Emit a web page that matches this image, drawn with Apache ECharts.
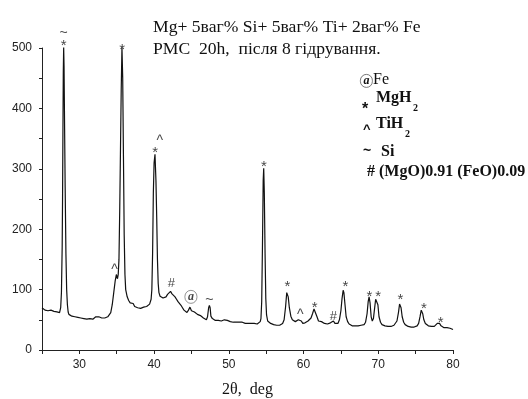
<!DOCTYPE html>
<html><head><meta charset="utf-8">
<script src="https://cdn.jsdelivr.net/npm/echarts@6/dist/echarts.min.js"></script>
<style>html,body{margin:0;padding:0;background:#fff}#c{width:528px;height:399px}</style>
</head><body><div id="c"></div>
<script>
// XRD scan: [2θ (deg), intensity]
const xrdScan = [
[25.0,70],[25.2,68],[25.4,66],[25.6,67],[25.8,65],[26.0,64],[26.2,66],[26.4,63],[26.6,64],[26.8,62],[27.0,63],[27.2,61],[27.35,62],
[27.5,70],[27.6,95],[27.7,170],[27.75,250],[27.8,360],[27.85,460],[27.9,501],[27.95,470],[28.0,400],[28.1,270],[28.2,160],[28.3,100],
[28.4,75],[28.5,63],[28.6,59],
[28.8,57],[29.0,56],[29.2,57],[29.4,55],[29.6,56],[29.8,54],[30.0,55],[30.2,53],[30.4,54],[30.6,52],[30.8,53],[31.0,51],[31.2,53],
[31.4,52],[31.6,53],[31.8,51],[32.0,53],[32.2,55],[32.4,57],[32.6,55],[32.8,54],[33.0,53],[33.2,54],[33.4,53],[33.6,54],[33.8,55],
[34.0,56],[34.2,62],[34.4,75],[34.6,95],[34.8,115],[34.95,125],[35.1,118],[35.2,125],[35.3,150],[35.4,230],[35.5,330],[35.6,430],
[35.7,501],[35.8,450],[35.9,320],[36.0,190],[36.1,125],[36.2,100],[36.4,88],[36.6,82],[36.8,78],[37.0,76],[37.2,77],[37.4,72],
[37.6,73],[37.8,70],[38.0,71],[38.2,69],[38.4,70],[38.6,71],[38.8,70],[39.0,72],[39.2,73],[39.4,76],[39.6,84],[39.7,100],[39.8,160],
[39.9,260],[40.0,310],[40.12,324],[40.25,280],[40.35,220],[40.45,150],[40.55,110],[40.65,95],[40.8,89],[41.0,87],[41.2,86],[41.4,89],
[41.6,88],[41.8,92],[42.0,95],
[42.2,97],[42.4,93],[42.6,94],[42.8,88],[43.0,84],[43.2,80],[43.4,78],[43.6,74],[43.8,70],[44.0,66],[44.2,64],[44.4,62],[44.6,66],
[44.8,71],[45.0,65],[45.2,62],[45.4,63],[45.6,60],[45.8,59],[46.0,58],[46.2,57],[46.4,54],[46.6,53],[46.8,51],[47.0,50],[47.15,55],
[47.3,70],[47.4,74],[47.5,70],[47.6,56],[47.8,52],[48.0,50],[48.2,49],[48.4,48],[48.6,49],[48.8,47],[49.0,48],[49.2,48],[49.4,50],
[49.6,51],[49.8,49],[50.0,48],[50.2,47],[50.4,47],[50.6,46],[50.8,47],[51.0,46],[51.2,45],[51.4,46],[51.6,45],[51.8,46],[52.0,45],
[52.2,44],[52.4,45],[52.6,44],[52.8,43],[53.0,44],[53.2,43],[53.4,44],[53.6,42],[53.8,43],[54.0,44],[54.2,47],[54.3,52],[54.4,80],
[54.5,170],[54.6,280],[54.67,301],[54.75,260],[54.85,160],[54.95,85],[55.05,58],[55.2,48],[55.4,45],[55.6,44],[55.8,43],[56.0,42],[56.2,42],
[56.4,41],[56.6,42],[56.8,41],[57.0,42],[57.2,44],[57.4,50],[57.6,72],[57.75,95],[57.85,98],[57.95,88],[58.1,70],[58.3,56],[58.5,50],
[58.7,48],[58.9,47],[59.1,49],[59.3,50],[59.5,51],[59.7,48],[59.9,44],[60.0,43],[60.2,45],[60.4,47],[60.6,48],[60.8,50],[61.0,53],
[61.2,60],[61.4,68],[61.5,70],[61.6,66],[61.8,55],[62.0,48],[62.2,46],[62.4,47],[62.6,45],[62.8,44],[63.0,45],[63.2,43],[63.4,44],
[63.6,45],[63.8,47],[64.0,48],[64.2,44],[64.4,42],[64.6,44],[64.8,50],[65.0,65],[65.15,85],[65.3,99],[65.4,95],[65.55,75],[65.7,55],
[65.9,47],[66.1,43],[66.3,41],[66.5,40],[66.7,41],[66.9,40],[67.1,39],[67.3,40],[67.5,39],[67.7,41],[67.9,40],[68.1,42],[68.3,46],
[68.5,60],[68.65,80],[68.77,88],[68.9,78],[69.05,55],[69.2,48],[69.35,52],[69.5,68],[69.65,84],[69.8,87],[69.95,75],[70.1,55],
[70.3,46],[70.5,42],[70.7,41],[70.9,40],[71.1,41],[71.3,39],[71.5,40],[71.7,39],[71.9,40],[72.1,41],[72.3,43],[72.5,48],[72.7,62],
[72.85,76],[72.95,78],[73.05,70],[73.2,55],[73.4,46],[73.6,42],[73.8,40],[74.0,39],[74.2,40],[74.4,38],[74.6,39],[74.8,38],[75.0,39],
[75.2,40],[75.4,44],[75.6,56],[75.75,66],[75.85,67],[75.95,60],[76.1,50],[76.3,44],[76.5,41],[76.7,40],[76.9,38],[77.1,39],[77.3,38],
[77.5,39],[77.7,41],[77.9,44],[78.05,47],[78.2,44],[78.4,40],[78.6,38],[78.8,37],[79.0,36],[79.2,37],[79.4,35],[79.6,36],[79.8,35],[80.0,34]
];

// phase marks [2θ, intensity position]
const starMarks  = [[27.9,510],[35.72,504],[40.16,333],[54.7,310],[57.85,111],[61.5,76],[65.6,111],[68.8,94],[70.0,94],[72.95,89],[76.1,75],[78.35,52]];
const tildeMarks = [[27.9,524],[47.4,82]];
const caretMarks = [[40.75,350],[34.7,137],[59.55,63]];
const hashMarks  = [[42.3,110],[64.0,55]];
const feMarks    = [[44.93,88]];

const xTicks = [30,40,50,60,70,80];
const yTicks = [0,100,200,300,400,500];

const titleLines = ['Mg+ 5ваг% Si+ 5ваг% Ti+ 2ваг% Fe', 'PMC  20h,  після 8 гідрування.'];

function marks(arr, ch, font, size, weight, offset){
  return arr.map(p => ({value:p, label:{show:true, formatter:ch, position:'inside', offset:offset||[0,0],
    fontFamily:font, fontSize:size, fontWeight:weight||'normal', color:'#111'}}));
}

const chart = echarts.init(document.getElementById('c'));
chart.setOption({
  backgroundColor:'#fff',
  animation:false,
  grid:{left:42, right:75, top:48, bottom:49, containLabel:false, outerBoundsMode:'none'},
  xAxis:{type:'value', min:25, max:80, interval:5,
    axisLine:{lineStyle:{color:'#222', width:1}},
    axisTick:{inside:false, length:4, lineStyle:{color:'#222'}},
    splitLine:{show:false},
    axisLabel:{margin:9, color:'#222', fontFamily:'Liberation Sans', fontSize:12,
      formatter:v => xTicks.indexOf(v) >= 0 ? String(v) : ''},
    name:'2θ,  deg', nameLocation:'middle', nameGap:32,
    nameTextStyle:{fontFamily:'Liberation Serif', fontSize:16, color:'#111'}
  },
  yAxis:{type:'value', min:0, max:500, interval:50,
    axisLine:{show:true, lineStyle:{color:'#222', width:1}},
    axisTick:{show:true, inside:false, length:3, lineStyle:{color:'#222'}},
    splitLine:{show:false},
    axisLabel:{margin:10, color:'#222', fontFamily:'Liberation Sans', fontSize:12,
      formatter:v => yTicks.indexOf(v) >= 0 ? String(v) : ''}
  },
  series:[
    {type:'line', data:xrdScan, showSymbol:false, symbol:'none', clip:false,
     lineStyle:{color:'#111', width:1.2}},
    {type:'scatter', symbolSize:2, itemStyle:{color:'rgba(0,0,0,0)'}, clip:false, silent:true, z:5,
     data:[].concat(
       marks(starMarks,'*','Liberation Sans',15,'normal',[0,4]),
       marks(tildeMarks,'~','Liberation Sans',14,'normal',[0,0]),
       marks(caretMarks,'^','Liberation Sans',14,'normal',[0,3]),
       marks(hashMarks,'#','Liberation Sans',13,'normal',[0,0])
     ).concat(feMarks.map(p => ({value:p, label:{show:true, position:'inside', formatter:'a',
       fontFamily:'Liberation Serif', fontStyle:'italic', fontWeight:'bold', fontSize:12, color:'#111',
       borderColor:'#555', borderWidth:0.8, borderRadius:7, padding:[1,3,0,3]}})))
    }
  ],
  graphic:[
    {type:'text', left:153, top:18, style:{text:titleLines[0], font:'17.6px "Liberation Serif"', fill:'#111'}},
    {type:'text', left:153, top:40, style:{text:titleLines[1], font:'17.6px "Liberation Serif"', fill:'#111'}},
    {type:'text', left:360, top:74, style:{text:'a', font:'italic bold 12px "Liberation Serif"', fill:'#111',
      borderColor:'#555', borderWidth:0.8, borderRadius:7, padding:[1,3,0,3]}},
    {type:'text', left:373, top:72, style:{text:'Fe', font:'16px "Liberation Serif"', fill:'#111'}},
    {type:'text', left:362, top:102, style:{text:'*', font:'bold 16px "Liberation Sans"', fill:'#111'}},
    {type:'text', left:376, top:90, style:{text:'MgH', font:'bold 16px "Liberation Serif"', fill:'#111'}},
    {type:'text', left:413, top:103, style:{text:'2', font:'bold 10px "Liberation Serif"', fill:'#111'}},
    {type:'text', left:363, top:123, style:{text:'^', font:'bold 13px "Liberation Sans"', fill:'#111'}},
    {type:'text', left:376, top:116, style:{text:'TiH', font:'bold 16px "Liberation Serif"', fill:'#111'}},
    {type:'text', left:405, top:129, style:{text:'2', font:'bold 10px "Liberation Serif"', fill:'#111'}},
    {type:'text', left:363, top:144, style:{text:'~', font:'bold 14px "Liberation Sans"', fill:'#111'}},
    {type:'text', left:381, top:144, style:{text:'Si', font:'bold 16px "Liberation Serif"', fill:'#111'}},
    {type:'text', left:367, top:164, style:{text:'# (MgO)0.91 (FeO)0.09', font:'bold 16px "Liberation Serif"', fill:'#111'}}
  ]
});
</script></body></html>
